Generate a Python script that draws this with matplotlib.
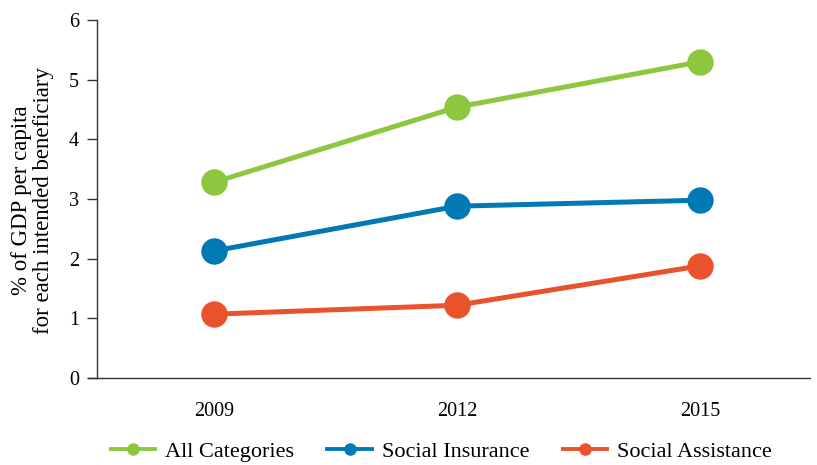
import matplotlib
matplotlib.use('Agg')
import matplotlib.pyplot as plt
from matplotlib.lines import Line2D

years = ['2009', '2012', '2015']
all_categories = [3.28, 4.54, 5.30]
social_insurance = [2.13, 2.88, 2.98]
social_assistance = [1.07, 1.22, 1.88]

COLORS = {
    'All Categories': '#8DC63F',
    'Social Insurance': '#0079B5',
    'Social Assistance': '#E8522D',
}

plt.rcParams['font.family'] = ['Liberation Serif']

fig = plt.figure(figsize=(8.17, 4.65), dpi=100)
ax = fig.add_axes([0.119, 0.187, 0.872, 0.770])

x = list(range(len(years)))
series = [
    ('All Categories', all_categories),
    ('Social Insurance', social_insurance),
    ('Social Assistance', social_assistance),
]
for name, vals in series:
    ax.plot(x, vals, color=COLORS[name], linewidth=3.6, marker='o',
            markersize=18, zorder=3)

ax.set_xlim(-0.48, 2.45)
ax.set_ylim(0, 6)
ax.set_yticks(range(7))
ax.set_xticks(x)
ax.set_xticklabels(years)
ax.tick_params(axis='y', length=7, width=1, labelsize=14.5, pad=6, color='#333333')
ax.tick_params(axis='x', length=0, labelsize=14.5, pad=17)
ax.spines[['top', 'right']].set_visible(False)
for s in ['left', 'bottom']:
    ax.spines[s].set_color('#333333')
    ax.spines[s].set_linewidth(1)
ax.spines['bottom'].set_bounds(-0.48 - 0.037, 2.45)
ax.set_ylabel('% of GDP per capita\nfor each intended beneficiary', fontsize=16.5,
              linespacing=1.05)
ax.yaxis.set_label_coords(-0.061, 0.497)

handles = [Line2D([0], [0], color=COLORS[n], linewidth=2.8, marker='o',
                  markersize=8) for n, _ in series]
fig.legend(handles, [n for n, _ in series], loc='lower center',
           bbox_to_anchor=(0.54, -0.036), ncol=3, frameon=False, fontsize=16,
           handlelength=2.0, columnspacing=1.5, handletextpad=0.45)

fig.savefig('out.png', dpi=100, facecolor='white')
